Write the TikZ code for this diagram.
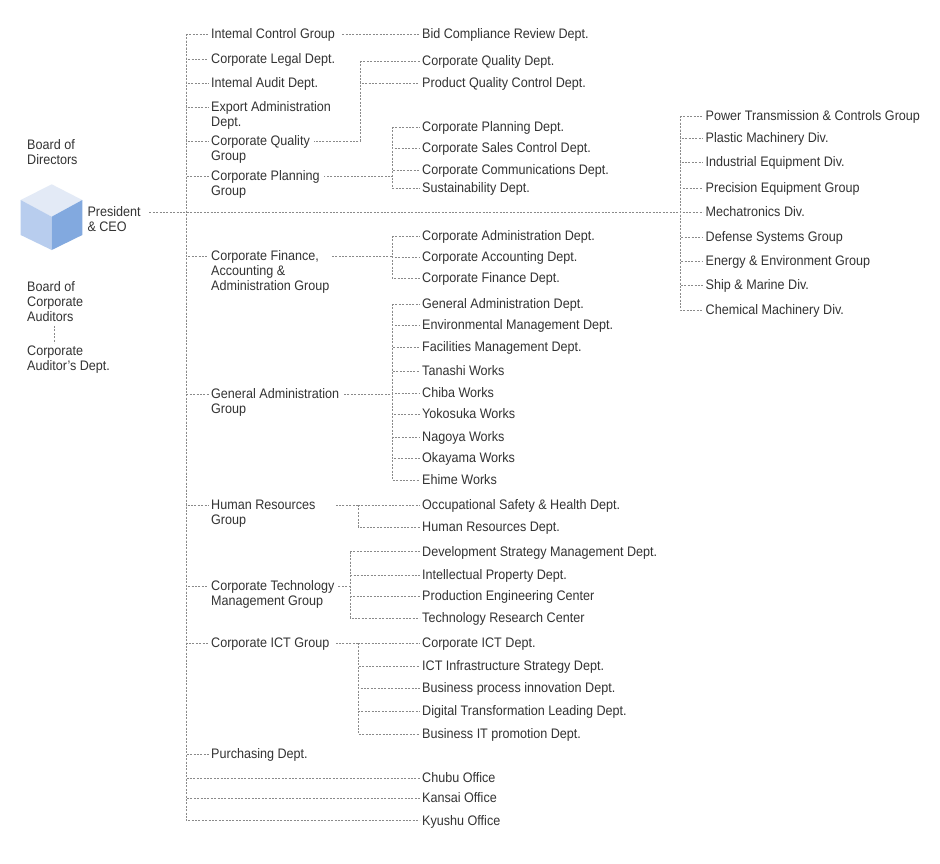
\documentclass[tikz,border=0pt]{standalone}
\usepackage{fontspec}
\setmainfont{Liberation Sans}[FakeStretch=0.912]
\definecolor{txt}{HTML}{333333}
\definecolor{ln}{HTML}{8A8A8A}
\definecolor{cubetop}{HTML}{E3EAF6}
\definecolor{cubeleft}{HTML}{B8CDEE}
\definecolor{cuberight}{HTML}{82A9DF}
\tikzset{
  lbl/.style={inner xsep=2.5pt, inner ysep=0pt, anchor=base west, align=left, text=txt, font=\fontsize{13.8}{15}\selectfont},
  conn/.style={draw=ln, line width=0.6pt, dash pattern=on 2pt off 1.4pt},
}
\begin{document}
\begin{tikzpicture}[x=1pt,y=-1pt]
\useasboundingbox (0,0) rectangle (940,863);
\fill[white] (0,0) rectangle (940,863);

% ---- left column (multi-line nodes: base = last line)
\node[lbl] (bod) at (24.5,164.5) {Board of\\Directors};
\fill[cubetop] (51.7,184.3) -- (82.3,200) -- (51.7,216.7) -- (20.7,200) -- cycle;
\fill[cubeleft] (20.7,200) -- (51.7,216.7) -- (51.7,250) -- (20.7,235) -- cycle;
\fill[cuberight] (51.7,216.7) -- (82.3,200) -- (82.3,235) -- (51.7,250) -- cycle;
\node[lbl] (pres) at (84.8,231.5) {President\\\& CEO};
\node[lbl] (bca) at (24.5,321.5) {Board of\\Corporate\\Auditors};
\node[lbl] (cadp) at (24.5,370.5) {Corporate\\Auditor's Dept.};
\coordinate (d1) at (54.5,326);
\coordinate (d2) at (54.5,343);
\draw[conn] (d1) -- (d2);

% ---- level 1
\node[lbl] (icg) at (208.5,38.5) {Intemal Control Group};
\node[lbl] (legal) at (208.5,63.5) {Corporate Legal Dept.};
\node[lbl] (audit) at (208.5,87.5) {Intemal Audit Dept.};
\node[lbl] (export) at (208.5,126.5) {Export Administration\\Dept.};
\node[lbl] (cqg) at (208.5,160.5) {Corporate Quality\\Group};
\node[lbl] (cpg) at (208.5,195.5) {Corporate Planning\\Group};
\node[lbl] (cfg) at (208.5,290.5) {Corporate Finance,\\Accounting \&\\Administration Group};
\node[lbl] (gag) at (208.5,413.5) {General Administration\\Group};
\node[lbl] (hrg) at (208.5,524.5) {Human Resources\\Group};
\node[lbl] (ctg) at (208.5,605.5) {Corporate Technology\\Management Group};
\node[lbl] (ictg) at (208.5,647.5) {Corporate ICT Group};
\node[lbl] (purch) at (208.5,758.5) {Purchasing Dept.};

% ---- level 2
\node[lbl] (bid) at (419.5,38.5) {Bid Compliance Review Dept.};
\node[lbl] (cqd) at (419.5,65.5) {Corporate Quality Dept.};
\node[lbl] (pqc) at (419.5,87.5) {Product Quality Control Dept.};
\node[lbl] (cpd) at (419.5,131.5) {Corporate Planning Dept.};
\node[lbl] (csc) at (419.5,152.5) {Corporate Sales Control Dept.};
\node[lbl] (ccd) at (419.5,174.5) {Corporate Communications Dept.};
\node[lbl] (sus) at (419.5,192.5) {Sustainability Dept.};
\node[lbl] (cad) at (419.5,240.5) {Corporate Administration Dept.};
\node[lbl] (cacc) at (419.5,261.5) {Corporate Accounting Dept.};
\node[lbl] (cfd) at (419.5,282.5) {Corporate Finance Dept.};
\node[lbl] (gad) at (419.5,308.5) {General Administration Dept.};
\node[lbl] (env) at (419.5,329.5) {Environmental Management Dept.};
\node[lbl] (fac) at (419.5,351.5) {Facilities Management Dept.};
\node[lbl] (tan) at (419.5,375.5) {Tanashi Works};
\node[lbl] (chi) at (419.5,397.5) {Chiba Works};
\node[lbl] (yok) at (419.5,418.5) {Yokosuka Works};
\node[lbl] (nag) at (419.5,441.5) {Nagoya Works};
\node[lbl] (oka) at (419.5,462.5) {Okayama Works};
\node[lbl] (ehi) at (419.5,484.5) {Ehime Works};
\node[lbl] (osh) at (419.5,509.5) {Occupational Safety \& Health Dept.};
\node[lbl] (hrd) at (419.5,531.5) {Human Resources Dept.};
\node[lbl] (dsm) at (419.5,556) {Development Strategy Management Dept.};
\node[lbl] (ipd) at (419.5,579.5) {Intellectual Property Dept.};
\node[lbl] (pec) at (419.5,600.5) {Production Engineering Center};
\node[lbl] (trc) at (419.5,622.5) {Technology Research Center};
\node[lbl] (cict) at (419.5,647.5) {Corporate ICT Dept.};
\node[lbl] (iis) at (419.5,670.5) {ICT Infrastructure Strategy Dept.};
\node[lbl] (bpi) at (419.5,692.5) {Business process innovation Dept.};
\node[lbl] (dtl) at (419.5,715.5) {Digital Transformation Leading Dept.};
\node[lbl] (bit) at (419.5,738.5) {Business IT promotion Dept.};
\node[lbl] (chubu) at (419.5,782.5) {Chubu Office};
\node[lbl] (kansai) at (419.5,802.5) {Kansai Office};
\node[lbl] (kyushu) at (419.5,825) {Kyushu Office};

% ---- right column
\node[lbl] (ptc) at (703,120.5) {Power Transmission \& Controls Group};
\node[lbl] (pmd) at (703,142.5) {Plastic Machinery Div.};
\node[lbl] (ied) at (703,166.5) {Industrial Equipment Div.};
\node[lbl] (peg) at (703,192.5) {Precision Equipment Group};
\node[lbl] (mec) at (703,216.5) {Mechatronics Div.};
\node[lbl] (dsg) at (703,241.5) {Defense Systems Group};
\node[lbl] (eeg) at (703,265.5) {Energy \& Environment Group};
\node[lbl] (smd) at (703,289.5) {Ship \& Marine Div.};
\node[lbl] (cmd) at (703,314.5) {Chemical Machinery Div.};

% ---- trunk
\coordinate (tr) at (186,34);
\foreach \n/\s in {icg/4.5,legal/4.5,audit/4.5,export/19.5,cqg/19.5,cpg/19.5,cfg/34.5,gag/19.5,hrg/19.5,ctg/19.5,ictg/4.5,purch/4.5,chubu/4.5,kansai/4.5,kyushu/4.5}
  \draw[conn] (tr) |- ([yshift=\s pt]\n.base west);

% ---- president to right column
\coordinate (br) at (680,116);
\foreach \n in {ptc,pmd,ied,peg,mec,dsg,eeg,smd,cmd}
  \draw[conn] (br) |- ([yshift=4.5pt]\n.base west);
\draw[conn] ([xshift=6pt,yshift=19.5pt]pres.base east) -- ([yshift=4.5pt]mec.base west -| br);

% ---- internal control
\draw[conn] ([xshift=4.5pt,yshift=4.5pt]icg.base east) -- ([yshift=4.5pt]bid.base west);

% ---- quality
\coordinate (bq) at (360,61);
\foreach \n in {cqd,pqc}
  \draw[conn] (bq) |- ([yshift=4.5pt]\n.base west);
\draw[conn] (bq) |- ([xshift=1.5pt,yshift=19.5pt]cqg.base east);

% ---- planning
\coordinate (bp) at (392,127);
\foreach \n in {cpd,csc,ccd,sus}
  \draw[conn] (bp) |- ([yshift=4.5pt]\n.base west);
\draw[conn] (bp) |- ([xshift=1.5pt,yshift=19.5pt]cpg.base east);

% ---- finance
\coordinate (bf) at (392,236);
\foreach \n in {cad,cacc,cfd}
  \draw[conn] (bf) |- ([yshift=4.5pt]\n.base west);
\draw[conn] (bf) |- ([xshift=0pt,yshift=34.5pt]cfg.base east);

% ---- general administration
\coordinate (bg) at (392,304);
\foreach \n in {gad,env,fac,tan,chi,yok,nag,oka,ehi}
  \draw[conn] (bg) |- ([yshift=4.5pt]\n.base west);
\draw[conn] (bg) |- ([xshift=2pt,yshift=19.5pt]gag.base east);

% ---- human resources
\coordinate (bh) at (358,505);
\coordinate (hrs) at (336,505);
\foreach \n in {osh,hrd}
  \draw[conn] (bh) |- ([yshift=4.5pt]\n.base west);
\draw[conn] (bh) -- (hrs);

% ---- technology
\coordinate (bt) at (350,551.5);
\foreach \n in {dsm,ipd,pec,trc}
  \draw[conn] (bt) |- ([yshift=4.5pt]\n.base west);
\draw[conn] (bt) |- ([xshift=0.5pt,yshift=19.5pt]ctg.base east);

% ---- ICT
\coordinate (bi) at (358,643);
\coordinate (icts) at (336,643);
\foreach \n in {cict,iis,bpi,dtl,bit}
  \draw[conn] (bi) |- ([yshift=4.5pt]\n.base west);
\draw[conn] (bi) -- (icts);
\end{tikzpicture}
\end{document}
